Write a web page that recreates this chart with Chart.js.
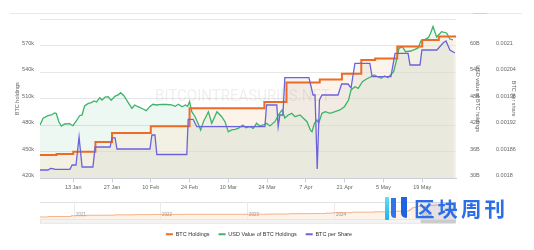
<!DOCTYPE html>
<html>
<head>
<meta charset="utf-8">
<script src="https://cdn.jsdelivr.net/npm/chart.js@4.4.1/dist/chart.umd.min.js"></script>
<style>
html,body{margin:0;padding:0;background:#fff;}
#wrap{position:relative;width:534px;height:250px;overflow:hidden;}
#main{position:absolute;left:0;top:0;}
#nav{position:absolute;left:0;top:196px;}
.topline{position:absolute;left:10px;top:13px;width:512px;height:1px;background:#e8e8e8;}
.toptab{position:absolute;left:473px;top:13px;width:14px;height:1px;background:#c9d2f2;}
.bar{position:absolute;}
.b1{left:385px;top:197px;width:4px;height:23px;background:linear-gradient(#5fe0f5,#1fb0ef);border-radius:1px;}
.b2{left:391px;top:198px;width:5px;height:20px;background:#2f74ea;border-radius:0 0 1px 4px;}
.b3{left:401px;top:197px;width:6px;height:21px;background:#1f62e2;border-radius:0 0 1px 5px;}
.logotext{position:absolute;left:414px;top:197px;font-family:"Noto Sans CJK SC",sans-serif;font-weight:700;font-size:20.5px;line-height:22px;letter-spacing:3px;color:#2a6ee8;white-space:nowrap;}
</style>
</head>
<body>
<div id="wrap">
  <canvas id="main" width="534" height="250"></canvas>
  <canvas id="nav" width="534" height="30"></canvas>
  <div class="topline"></div>
  <div class="toptab"></div>
  <div class="bar b1"></div><div class="bar b2"></div><div class="bar b3"></div>
  <div class="logotext">区块周刊</div>
</div>
<script>
// ---------- DATA (days counted from 1 Jan 2025) ----------
const tickDays   = [12, 26, 40, 54, 68, 82, 96, 110, 124, 138];
const tickLabels = ['13 Jan','27 Jan','10 Feb','24 Feb','10 Mar','24 Mar','7 Apr','21 Apr','5 May','19 May'];

const holdingsTickValues = [420000,450000,480000,510000,540000,570000,600000];
const holdingsTickLabels = ['420k','450k','480k','510k','540k','570k',''];
const usdTickValues = [30,36,42,48,54,60,66];
const usdTickLabels = ['30B','36B','42B','48B','54B','60B',''];
const perShareTickValues = [0.0018,0.00186,0.00192,0.00198,0.00204,0.0021,0.00216];
const perShareTickLabels = ['0.0018','0.00186','0.00192','0.00198','0.00204','0.0021',''];

// BTC Holdings (step line)
const holdDays   = [0,6,12,20,26,40,54,75,81,89,101,109,116,121,129,138,144,150.2];
const holdValues = [446400,447470,450000,461000,471107,478740,499096,499226,506137,528185,531644,538200,553555,555450,568840,576230,580250,580250];

// USD value of BTC holdings (billions)
const usdDays = [0,1.1,2.9,4.1,5.3,5.9,6.8,7.7,8.9,10.7,11.9,13.1,14.3,15.2,16.1,17.3,18.5,19.6,20.4,21.6,22.4,23.5,24.6,25.7,27,28.2,29.1,30.3,31.8,33.2,34.2,35.4,37.2,38.4,39.6,40.8,42,43.9,45.7,47.5,48.8,50,51.3,52.5,53.3,54,54.8,56,57.3,58,59,60.8,62,63.9,65.6,66.8,68,69.2,70.4,71.6,73.2,74.4,75.8,77,78.2,79.4,80.6,81.8,83,84.8,86.3,87.4,88.4,89.6,90.9,92.1,93.9,95.1,96.4,97.6,98.2,99.1,100,100.6,101.8,103,104.7,106.5,108.3,109.9,111.4,112.3,113.7,114.9,116.4,117.9,119.5,120.7,121.9,123.2,124.4,125.6,126.8,127.7,128.6,129.6,130.8,132,133.9,135.4,136.6,137.5,139,140.2,141,141.9,143.2,145,146.8,148,149.1];
const usdValues = [42.05,43.56,44.15,44.31,44.76,44.64,42.79,41.82,42.27,42.34,41.89,42.95,44.15,44.31,46.34,46.86,47.09,47.47,47.24,48.22,47.7,48.37,48.44,47.63,48.53,48.83,49.35,48.67,47.18,45.82,46.57,46.18,45.66,45.28,46.18,46.72,46.57,46.72,46.68,46.57,46.27,46.72,46.18,46.57,46.27,47.31,45.05,43.92,42.05,40.92,42.79,45.05,42.43,45.05,43.92,42.79,40.53,40.92,41.07,41.3,42.05,41.44,41.66,41.3,42.43,41.82,42.05,42.43,41.82,42.79,44.53,45.44,43.63,44.31,44.69,43.92,44.31,43.56,42.79,40.92,40.53,42.43,43.18,42.43,44.69,45.05,44.69,45.05,45.44,46.18,47.7,49.96,50.7,50.34,51.83,52.44,52.96,53.35,52.96,52.6,53.12,52.74,53.5,54.09,56.35,59.38,59.74,58.61,58.77,59.15,59.52,61.03,61.41,61.78,62.77,64.3,61.93,63.13,62.84,61.48,61.26];

// BTC per share
const perShareDays = [0,2.9,3.8,4.7,5.4,10.8,11.6,13,14.1,15.2,19.1,19.9,25.3,26,27.1,27.8,39.7,40.4,41.5,42.2,53,53.5,55.3,56.6,81.2,81.8,85.5,86,86.6,87.7,88.4,97.1,98.6,99.3,100.1,100.9,101.8,107.6,108.9,111.2,112.3,113.7,119.1,119.9,126.7,128.2,132.9,133.6,137.2,137.9,143.3,145.5,146.6,148,149.8];
const perShareValues = [0.0018188,0.0018188,0.0018221,0.0018217,0.0018203,0.0018203,0.0018301,0.0018301,0.0018933,0.0018255,0.0018255,0.0018707,0.0018707,0.0018914,0.0018914,0.0018662,0.0018662,0.0018979,0.0018979,0.0018538,0.0018538,0.0019333,0.0019333,0.0019166,0.0019166,0.0019657,0.0019657,0.0019166,0.0019431,0.0019431,0.0020274,0.0020274,0.0019883,0.0019883,0.001821,0.001977,0.0019883,0.0019883,0.0020131,0.0020131,0.0020041,0.0020599,0.0020599,0.0020296,0.0020296,0.0020825,0.0020825,0.0020561,0.0020561,0.00209,0.00209,0.0021058,0.0021103,0.00209,0.0020832];

// Navigator (whole history, year fractions)
const navYears = [2021,2022,2023,2024,2025];
const navYearLabels = ['2021','2022','2023','2024','2025'];
const navX = [2020.61,2020.71,2020.93,2020.97,2021.15,2021.38,2021.47,2021.70,2021.91,2021.99,2022.26,2022.49,2022.72,2022.99,2023.26,2023.49,2023.73,2023.91,2023.99,2024.15,2024.21,2024.47,2024.72,2024.86,2024.88,2024.90,2024.92,2024.94,2024.96,2024.98,2025.00,2025.06,2025.11,2025.15,2025.25,2025.32,2025.38,2025.41];
const navHoldings = [21454,38250,40824,70470,90531,92079,105085,114042,121044,124391,129218,129699,130000,132500,140000,152333,158245,174530,189150,193000,214246,226331,252220,279420,331200,386700,402100,423650,439000,444262,446400,461000,478740,499096,528185,553555,576230,580250];
const navSelectedFrom = 2025.0;

// ---------- CHART ----------
const FONT = '"Liberation Sans", Arial, sans-serif';
const pts = (xs, ys) => xs.map((x, i) => ({x: x, y: ys[i]}));

const watermark = {
  id: 'watermark',
  beforeDatasetsDraw(chart) {
    const {ctx, chartArea} = chart;
    const text = 'BITCOINTREASURIES.NET';
    ctx.save();
    ctx.font = '400 17px Roboto';
    const w = ctx.measureText(text).width;
    const cx = chartArea.left + (chartArea.right - chartArea.left) * 0.487;
    const cy = chartArea.top + (chartArea.bottom - chartArea.top) * 0.487;
    ctx.translate(cx, cy);
    ctx.scale(175 / w, 1);
    ctx.fillStyle = 'rgba(110,110,110,0.11)';
    ctx.textAlign = 'center';
    ctx.textBaseline = 'middle';
    ctx.fillText(text, 0, 0);
    ctx.restore();
  }
};

new Chart(document.getElementById('main'), {
  type: 'line',
  data: {
    datasets: [
      {label: 'BTC Holdings', data: pts(holdDays, holdValues), yAxisID: 'y', stepped: 'before',
       borderColor: '#ee6b27', backgroundColor: 'rgba(249,233,213,0.5)', fill: 'start', borderWidth: 2, order: 1},
      {label: 'USD Value of BTC Holdings', data: pts(usdDays, usdValues), yAxisID: 'y1',
       borderColor: '#3db36b', backgroundColor: 'rgba(60,181,106,0.09)', fill: 'start', borderWidth: 1.3, order: 2},
      {label: 'BTC per Share', data: pts(perShareDays, perShareValues), yAxisID: 'y2',
       borderColor: '#6b63dc', backgroundColor: 'rgba(200,200,200,0.2)', fill: 'start', borderWidth: 1.3, order: 0}
    ]
  },
  options: {
    responsive: false, animation: false, devicePixelRatio: 1,
    layout: {padding: {left: 0, right: 16, top: 19, bottom: 3}},
    elements: {point: {radius: 0, hoverRadius: 0}, line: {tension: 0}},
    plugins: {
      tooltip: {enabled: false},
      filler: {drawTime: 'beforeDatasetsDraw'},
      legend: {
        position: 'bottom', align: 'center',
        title: {display: true, text: '', padding: {top: 25.6, bottom: 0}, font: {size: 5.5, family: FONT}},
        labels: {
          boxWidth: 7, boxHeight: 2, padding: 9, color: '#333',
          font: {size: 5.5, family: FONT},
          sort: (a, b) => a.datasetIndex - b.datasetIndex,
          generateLabels: (chart) => Chart.defaults.plugins.legend.labels.generateLabels(chart).map(l => {
            l.fillStyle = l.strokeStyle; l.lineWidth = 0; return l;
          })
        }
      }
    },
    scales: {
      x: {
        type: 'linear', min: 0, max: 150.2,
        afterBuildTicks: s => { s.ticks = tickDays.map(v => ({value: v})); },
        afterFit: s => { s.height = 12; },
        ticks: {callback: (v, i) => tickLabels[i], font: {size: 5.5, family: FONT}, color: '#666', padding: 2, maxRotation: 0, autoSkip: false},
        grid: {drawOnChartArea: false, drawTicks: true, tickLength: 4, color: '#c9cfd9'},
        border: {color: '#c9cfd9'}
      },
      y: {
        position: 'left', min: 420000, max: 600000,
        afterBuildTicks: s => { s.ticks = holdingsTickValues.map(v => ({value: v})); },
        afterFit: s => { s.width = 40; },
        ticks: {callback: (v, i) => holdingsTickLabels[i], font: {size: 5.5, family: FONT}, color: '#666', padding: 6, labelOffset: -2.5},
        grid: {color: '#e6e6e6', drawTicks: false},
        border: {display: false},
        title: {display: true, text: 'BTC holdings', color: '#666', font: {size: 5.5, family: FONT}, padding: {top: 13.7, bottom: 0}}
      },
      y1: {
        position: 'right', min: 30, max: 66,
        afterBuildTicks: s => { s.ticks = usdTickValues.map(v => ({value: v})); },
        afterFit: s => { s.width = 28; },
        ticks: {callback: (v, i) => usdTickLabels[i], font: {size: 5.5, family: FONT}, color: '#666', padding: 6, labelOffset: -2.5},
        grid: {display: false},
        border: {display: false},
        title: {display: true, text: 'USD value of BTC holdings', color: '#666', font: {size: 5.5, family: FONT}, padding: {top: 2.7, bottom: 0}}
      },
      y2: {
        position: 'right', min: 0.0018, max: 0.00216,
        afterBuildTicks: s => { s.ticks = perShareTickValues.map(v => ({value: v})); },
        afterFit: s => { s.width = 34; },
        ticks: {callback: (v, i) => perShareTickLabels[i], font: {size: 5.5, family: FONT}, color: '#666', padding: 4, labelOffset: -2.5},
        grid: {display: false},
        border: {display: false},
        title: {display: true, text: 'BTC per share', color: '#666', font: {size: 5.5, family: FONT}, padding: {top: 0.7, bottom: 0}}
      }
    }
  },
  plugins: [watermark]
});

// ---------- NAVIGATOR ----------
const navDecor = {
  id: 'navDecor',
  beforeDatasetsDraw(chart) {
    const {ctx, chartArea: {top, bottom, left, right}, scales: {x}} = chart;
    ctx.save();
    ctx.lineWidth = 1;
    ctx.strokeStyle = '#e2e2e2';
    ctx.beginPath(); ctx.moveTo(left, top + 0.5); ctx.lineTo(right, top + 0.5); ctx.stroke();
    ctx.font = '4.5px ' + FONT;
    ctx.textAlign = 'left'; ctx.textBaseline = 'middle'; ctx.fillStyle = '#999';
    navYears.forEach((yr, i) => {
      const px = Math.round(x.getPixelForValue(yr)) + 0.5;
      ctx.strokeStyle = '#ebebeb';
      ctx.beginPath(); ctx.moveTo(px, top); ctx.lineTo(px, bottom); ctx.stroke();
      ctx.fillText(navYearLabels[i], px + 1.5, top + (bottom - top) * 0.74);
    });
    ctx.restore();
  },
  afterDraw(chart) {
    const {ctx, chartArea: {top, bottom, left, right}, scales: {x}} = chart;
    const sx = x.getPixelForValue(navSelectedFrom);
    ctx.save();
    ctx.fillStyle = 'rgba(102,133,194,0.16)';
    ctx.fillRect(sx, top, right - sx, bottom - top);
    ctx.fillStyle = '#f4f4f4'; ctx.strokeStyle = '#e6e6e6';
    ctx.fillRect(left, bottom + 0.5, right - left, 3.8);
    ctx.strokeRect(left + 0.5, bottom + 0.5, right - left - 1, 3.8);
    ctx.fillStyle = '#cccccc';
    ctx.beginPath();
    ctx.roundRect(sx, bottom + 0.5, right - sx, 3.8, 1.8);
    ctx.fill();
    ctx.restore();
  }
};

new Chart(document.getElementById('nav'), {
  type: 'line',
  data: {datasets: [{data: pts(navX, navHoldings), stepped: 'before', borderColor: 'rgba(240,140,80,0.65)',
    backgroundColor: 'rgba(245,170,100,0.14)', fill: 'start', borderWidth: 1}]},
  options: {
    responsive: false, animation: false, devicePixelRatio: 1,
    layout: {padding: {left: 40, right: 78, top: 6, bottom: 7}},
    elements: {point: {radius: 0}},
    plugins: {legend: {display: false}, tooltip: {enabled: false}, filler: {drawTime: 'beforeDatasetsDraw'}},
    scales: {
      x: {type: 'linear', display: false, min: 2020.61, max: 2025.41},
      y: {display: false, min: -60000, max: 620000}
    }
  },
  plugins: [navDecor]
});
</script>
</body>
</html>
